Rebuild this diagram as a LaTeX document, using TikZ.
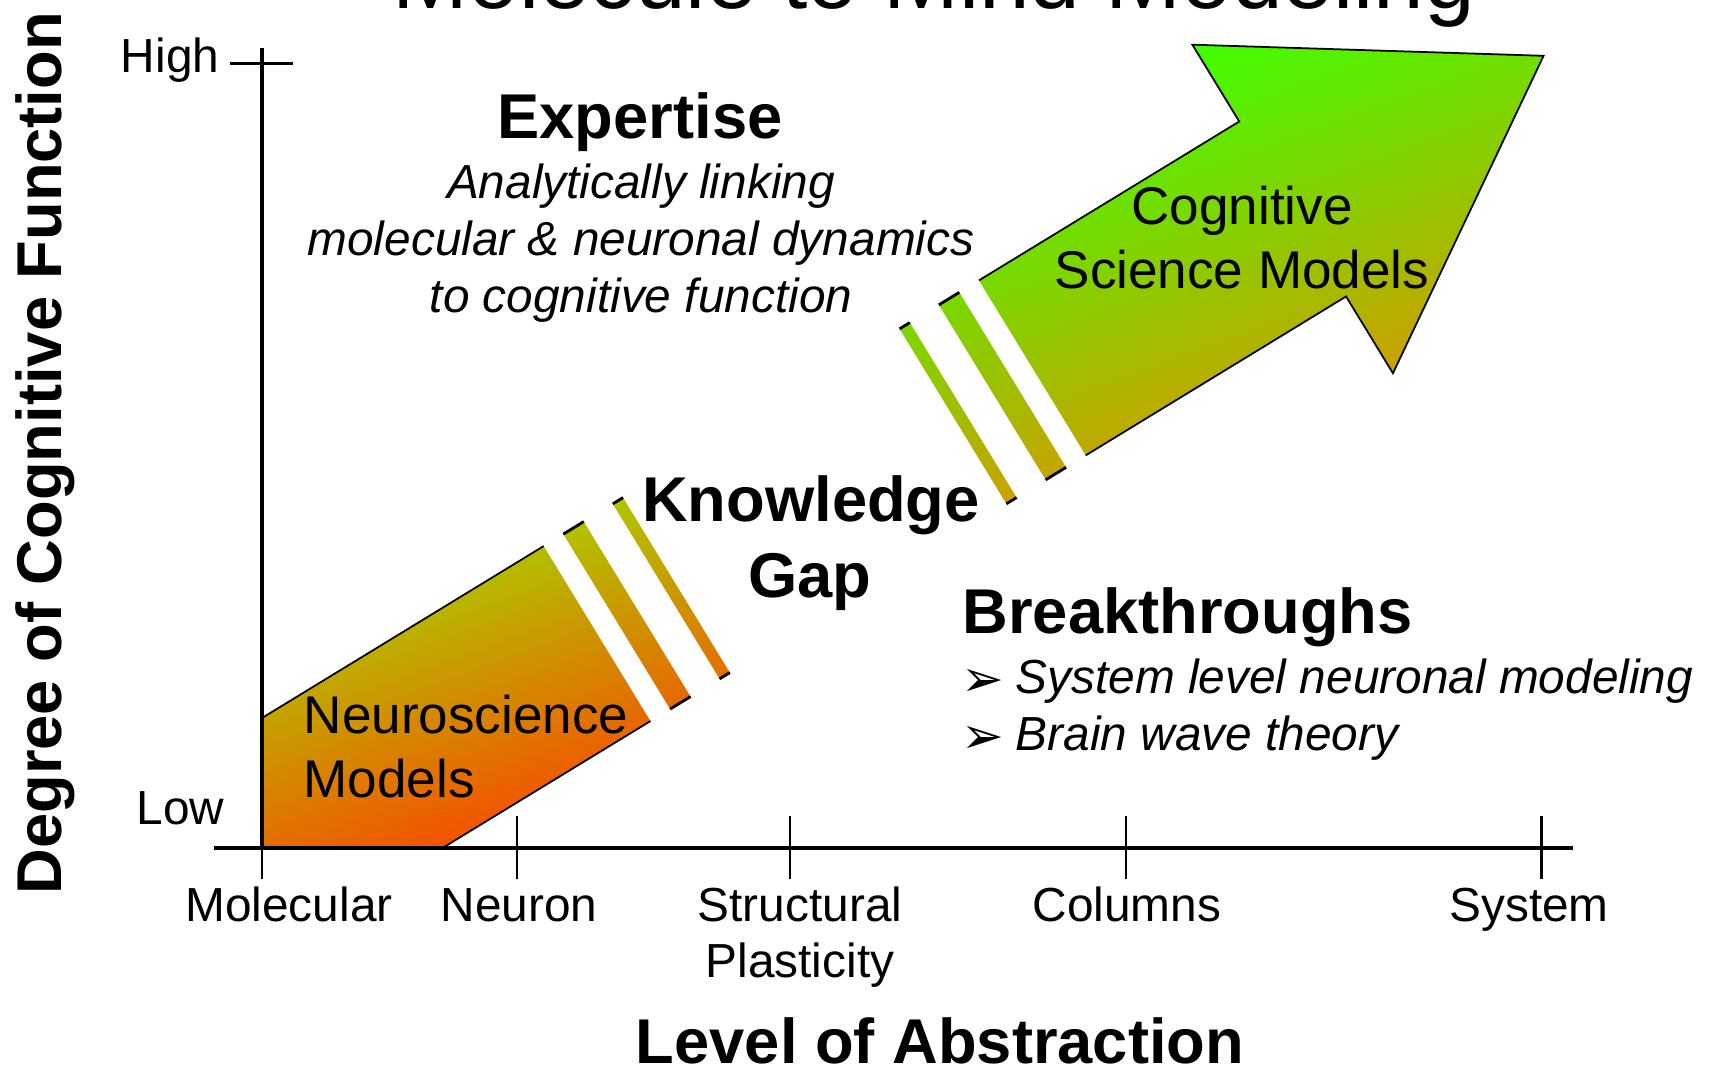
\documentclass[tikz,border=0pt]{standalone}
\usepackage{fontspec}
\setmainfont{Liberation Sans}
\newfontfamily\bulletfont{DejaVu Sans}
\definecolor{lowtop}{HTML}{AFC600}
\definecolor{lowbottom}{HTML}{F45200}
\definecolor{hightop}{HTML}{40FF00}
\definecolor{highbottom}{HTML}{CCA000}
\tikzset{
  axisline/.style={line width=1.2pt},
  tickline/.style={line width=0.85pt},
  arrowframe/.style={shift={(262,718)}, rotate=31.4},
  edgeline/.style={line width=0.5pt},
  stripeend/.style={line width=0.8pt},
  smalltext/.style={inner sep=0pt, font=\fontsize{13.6}{16}\selectfont},
  slanttext/.style={inner sep=0pt, font=\itshape\fontsize{13.6}{16}\selectfont},
  modeltext/.style={inner sep=0pt, font=\fontsize{15.1}{18}\selectfont},
  headtext/.style={inner sep=0pt, font=\bfseries\fontsize{18}{21.6}\selectfont},
  bullettext/.style={inner sep=0pt, font=\bulletfont\fontsize{14.5}{16}\selectfont},
}
\begin{document}
\begin{tikzpicture}[x=0.1mm, y=-0.1mm]
\useasboundingbox (0,0) rectangle (1709,1069);

% Lower part of the arrow: body and two stripes
\begin{scope}
  \clip[arrowframe] (0,0) -- (330,0) -- (330,205) -- (86.3,205) -- (-67.7,111) -- cycle
    (353,0) rectangle (377,205) (411,0) rectangle (423,205);
  \begin{scope}[transform canvas={rotate=20}]
    \shade[top color=lowtop, bottom color=lowbottom] (-100,681) rectangle (520,948);
  \end{scope}
\end{scope}

% Upper part of the arrow: two stripes and the head
\begin{scope}
  \clip[arrowframe] (747,0) rectangle (759,205) (793,0) rectangle (817,205)
    (840,0) -- (1145,0) -- (1145,-90) -- (1439,102.5) -- (1145,295) -- (1145,205) -- (840,205) -- cycle;
  \begin{scope}[transform canvas={rotate=20}]
    \shade[top color=hightop, bottom color=highbottom] (680,450) rectangle (1480,827);
  \end{scope}
\end{scope}

% Outlines of the arrow pieces
\draw[arrowframe, edgeline] (0,0) -- (330,0) (330,205) -- (86.3,205);
\foreach \sa/\sb in {353/377, 411/423, 747/759, 793/817}
  \draw[arrowframe, stripeend] (\sa,0) -- (\sb,0) (\sa,205) -- (\sb,205);
\draw[arrowframe, edgeline] (840,0) -- (1145,0) -- (1145,-90) -- (1439,102.5)
  -- (1145,295) -- (1145,205) -- (840,205);

% Axes and ticks
\draw[axisline] (262,48) -- (262,848);
\draw[axisline] (214,848) -- (1573,848);
\draw[tickline] (230,63) -- (293,63);
\draw[tickline] (262,848) -- (262,879);
\foreach \tx in {517,790,1126,1541}
  \draw[tickline] (\tx,816) -- (\tx,879);

% Title, cut by the top edge
\node[anchor=base, inner sep=0pt, font=\fontsize{25.9}{30}\selectfont] (title) at (934,8) {Molecule to Mind Modeling};

% Axis labels
\node[smalltext, anchor=base east] (high) at (220,72) {High};
\node[smalltext, anchor=base east] (low) at (225,824) {Low};
\node[smalltext, anchor=base] (molecular) at (289,921) {Molecular};
\node[smalltext, anchor=base] (neuron) at (519,921) {Neuron};
\node[smalltext, anchor=base] (structural) at (800,921) {Structural};
\node[smalltext, anchor=base] (plasticity) at (800,977) {Plasticity};
\node[smalltext, anchor=base] (columns) at (1127,921) {Columns};
\node[smalltext, anchor=base] (system) at (1529,921) {System};
\node[headtext, anchor=base] (xtitle) at (940,1063) {Level of Abstraction};
\node[headtext, anchor=base west, rotate=90] (ytitle) at (62,895) {Degree of Cognitive Function};

% Texts inside the arrow
\node[modeltext, anchor=base west] (neuro) at (303,733) {Neuroscience};
\node[modeltext, anchor=base west] (neuromodels) at (303,797) {Models};
\node[modeltext, anchor=base] (cognitive) at (1242,224) {Cognitive};
\node[modeltext, anchor=base] (cogmodels) at (1242,288) {Science Models};

% Expertise block
\node[headtext, anchor=base] (expertise) at (640,138) {Expertise};
\node[slanttext, anchor=base] (linkone) at (641,198) {Analytically linking};
\node[slanttext, anchor=base] (linktwo) at (641,255) {molecular \& neuronal dynamics};
\node[slanttext, anchor=base] (linkthree) at (641,312) {to cognitive function};

% Knowledge gap
\node[headtext, anchor=base] (knowledge) at (811,521) {Knowledge};
\node[headtext, anchor=base] (gap) at (810,597) {Gap};

% Breakthroughs with bullets
\node[headtext, anchor=base west] (breakthroughs) at (962,633) {Breakthroughs};
\node[bullettext, anchor=base west] (bulletone) at (961,696) {➢};
\node[slanttext, anchor=base west] (itemone) at (1015,693) {System level neuronal modeling};
\node[bullettext, anchor=base west] (bullettwo) at (961,753) {➢};
\node[slanttext, anchor=base west] (itemtwo) at (1015,750) {Brain wave theory};
\end{tikzpicture}
\end{document}
